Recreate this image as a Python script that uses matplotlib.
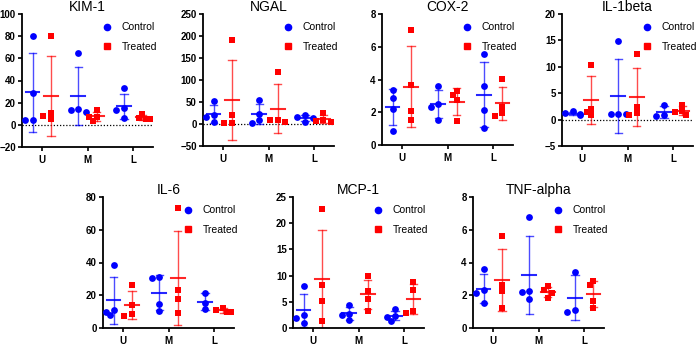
import matplotlib
matplotlib.use('Agg')
import matplotlib.pyplot as plt
from matplotlib.lines import Line2D
import numpy as np

plt.rcParams['font.family'] = ['Liberation Sans', 'DejaVu Sans']

# Данные: значения по группам U, M, L
groups = ['U', 'M', 'L']

kim1_control = [[80, 29, 4.5, 4.5], [65, 14, 13, 12], [33, 15, 13, 6]]
kim1_treated = [[80, 10.5, 8, 5], [13.5, 7.5, 7, 3.5], [9.5, 6.5, 5.5, 5]]

ngal_control = [[52, 20, 15, 4], [55, 22, 9, 3], [20, 15, 14, 5]]
ngal_treated = [[190, 21, 3, 3], [119, 8, 8, 5], [25, 8, 7, 5]]

cox2_control = [[3.35, 2.9, 2.2, 0.85], [3.58, 2.5, 2.35, 1.55], [5.55, 3.62, 2.12, 1.02]]
cox2_treated = [[7.0, 3.65, 2.1, 1.5], [3.3, 3.05, 2.75, 1.45], [4.05, 2.35, 1.95, 1.8]]

il1b_control = [[1.55, 1.2, 1.05, 0.8], [14.9, 1.0, 1.0, 1.0], [2.7, 0.8, 0.7]]
il1b_treated = [[10.4, 2.1, 1.4, 0.8], [12.4, 2.35, 1.25, 0.95], [2.8, 1.7, 1.4, 0.9]]

il6_control = [[38.5, 11, 10, 8], [31, 30.5, 14.5, 10.5], [21.5, 15, 11.5]]
il6_treated = [[26, 14, 8.5, 7.5], [73, 23, 18, 9], [12.5, 11, 10, 9.5]]

mcp1_control = [[8.1, 2.4, 2.0, 0.95], [4.4, 2.7, 2.5, 1.5], [3.6, 2.3, 2.1, 1.4]]
mcp1_treated = [[22.8, 8.2, 5.2, 1.4], [9.9, 7.0, 5.5, 3.3], [8.8, 7.2, 3.3, 2.8]]

tnf_control = [[3.6, 2.3, 2.15, 1.5], [6.8, 2.25, 2.2, 1.75], [3.45, 1.12, 1.0]]
tnf_treated = [[5.6, 2.65, 2.25, 1.25], [2.55, 2.3, 2.15, 1.85], [2.9, 2.6, 1.65, 1.2]]

titles = ['KIM-1', 'NGAL', 'COX-2', 'IL-1beta', 'IL-6', 'MCP-1', 'TNF-alpha']
y_limits = [(-20, 100, 20), (-50, 250, 50), (0, 8, 2), (-5, 20, 5),
            (0, 80, 20), (0, 25, 5), (0, 8, 2)]

panels = [
    (kim1_control, kim1_treated),
    (ngal_control, ngal_treated),
    (cox2_control, cox2_treated),
    (il1b_control, il1b_treated),
    (il6_control, il6_treated),
    (mcp1_control, mcp1_treated),
    (tnf_control, tnf_treated),
]

# Положение осей в пикселях (лево, верх, низ)
W, H = 700, 346
boxes = [(22, 14, 147), (203, 14, 146), (382, 14, 145), (562, 14, 146),
         (103, 197, 328), (293, 197, 328), (473, 197, 328)]
AX_W = 131

BLUE = '#0000ff'
RED = '#ff0000'
XLIM = (-0.43, 2.43)


def swarm(values, ypx, xpx, diam=5.0, step=0.085):
    # Простое расположение точек без перекрытия (как в Prism)
    order = np.argsort(values)[::-1]
    placed = []
    offsets = np.zeros(len(values))
    cands = [0, -step, step, -2 * step, 2 * step]
    for i in order:
        y = values[i]
        for c in cands:
            ok = True
            for (px, py) in placed:
                if np.hypot((c - px) * xpx, (y - py) * ypx) < diam:
                    ok = False
                    break
            if ok:
                break
        offsets[i] = c
        placed.append((c, y))
    return offsets


def draw_group(ax, center, vals, color, marker, ypx, xpx):
    vals = np.array(vals, dtype=float)
    m = vals.mean()
    sd = vals.std(ddof=1)
    ax.plot([center, center], [m - sd, m + sd], color=color, lw=1.0, alpha=0.7, zorder=2)
    for yy in (m - sd, m + sd):
        ax.plot([center - 0.08, center + 0.08], [yy, yy], color=color, lw=1.0, alpha=0.7, zorder=2)
    ax.plot([center - 0.15, center + 0.15], [m, m], color=color, lw=1.5, alpha=0.85, zorder=2)
    offs = swarm(vals, ypx, xpx)
    ax.scatter(center + offs, vals, s=24, color=color, marker=marker,
               linewidths=0, zorder=3)


fig = plt.figure(figsize=(7, 3.46), dpi=100)

for k, (title, (ctrl, trt), (ymin, ymax, step), (left, top, bottom)) in enumerate(
        zip(titles, panels, y_limits, boxes)):
    ax = fig.add_axes([left / W, (H - bottom) / H, AX_W / W, (bottom - top) / H])
    ypx = (bottom - top) / (ymax - ymin)
    xpx = AX_W / (XLIM[1] - XLIM[0])

    if ymin < 0:
        ax.axhline(0, color='black', lw=0.9, ls=(0, (1, 1.5)), zorder=1)

    for i in range(len(groups)):
        draw_group(ax, i - 0.2, ctrl[i], BLUE, 'o', ypx, xpx)
        draw_group(ax, i + 0.2, trt[i], RED, 's', ypx, xpx)

    ax.set_xlim(*XLIM)
    ax.set_ylim(ymin, ymax)
    ax.set_yticks(np.arange(ymin, ymax + step / 2, step))
    ax.set_xticks(range(len(groups)))
    ax.set_xticklabels(groups)
    for lab in ax.get_xticklabels() + ax.get_yticklabels():
        lab.set_fontweight('bold')
        lab.set_fontsize(7)
    ax.tick_params(direction='out', length=3, width=1.2, pad=1.5)
    ax.tick_params(axis='x', pad=3)
    for s in ['top', 'right']:
        ax.spines[s].set_visible(False)
    for s in ['left', 'bottom']:
        ax.spines[s].set_linewidth(1.3)
    ax.set_title(title, fontsize=10, pad=1)

    handles = [Line2D([], [], color=BLUE, marker='o', ls='none', markersize=4.5),
               Line2D([], [], color=RED, marker='s', ls='none', markersize=4.5)]
    ax.legend(handles, ['Control', 'Treated'], loc='upper left',
              bbox_to_anchor=(0.56, 0.985), frameon=False, fontsize=7.5,
              handlelength=1.0, handletextpad=0.9, labelspacing=0.95,
              borderaxespad=0.2)

fig.savefig('out.png', dpi=100)
